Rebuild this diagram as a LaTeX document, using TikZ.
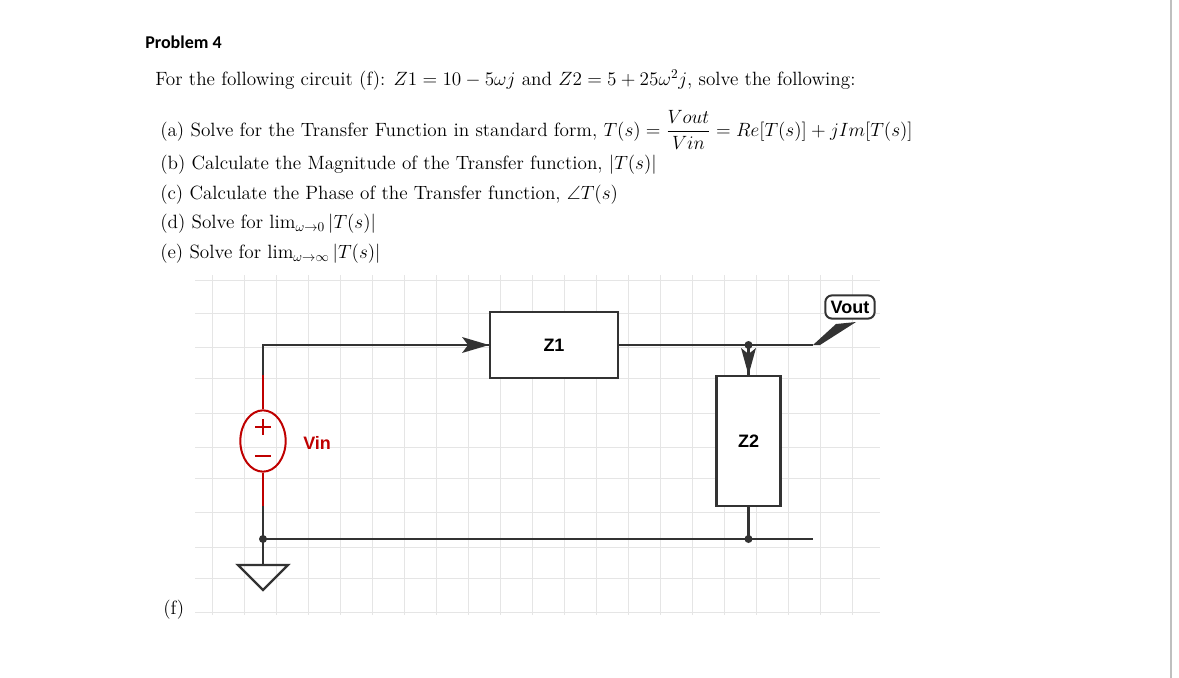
\documentclass[tikz,border=0pt]{standalone}
\usepackage{amsmath,amssymb}
\usepackage{fontspec}
\usetikzlibrary{shapes.geometric}
\newfontfamily\calfont{Carlito}
\newfontfamily\helfont{Liberation Sans}
\begin{document}
\begin{tikzpicture}[x=0.75pt,y=-0.75pt,
  wire/.style={draw=black!80,line width=1.8pt},
  box/.style={draw=black!80,line width=1.6pt,fill=white},
  lbl/.style={font=\helfont\bfseries\fontsize{13.5}{15}\selectfont},
  txt/.style={anchor=west,inner sep=0pt,font=\fontsize{14.4}{16}\selectfont}]
\useasboundingbox (0,0) rectangle (1179,678);
\draw[black!25,line width=1pt] (1171,0) -- (1171,678);
% grid
\foreach \y in {280,313,347,378,413,447,478,512,547,578,612} \draw[black!10,line width=0.6pt] (195,\y) -- (880,\y);
\foreach \x in {212,244,276,308,340,372,404,436,468,500,532,564,596,628,660,692,724,756,788,820,852} \draw[black!10,line width=0.6pt] (\x,275) -- (\x,615);
% texts
\node[anchor=west,inner sep=0pt,font=\calfont\bfseries\fontsize{13.5}{15}\selectfont] (title) at (145,42) {Problem 4};
\node[txt] (intro) at (155,80) {For the following circuit (f): $Z1=10-5\omega j$ and $Z2=5+25\omega^2 j$, solve the following:};
\node[txt] (qa) at (160,130) {(a) Solve for the Transfer Function in standard form, $T(s)=\dfrac{Vout}{Vin}=Re[T(s)]+jIm[T(s)]$};
\node[txt] (qb) at (160,165) {(b) Calculate the Magnitude of the Transfer function, $|T(s)|$};
\node[txt] (qc) at (160,195) {(c) Calculate the Phase of the Transfer function, $\angle T(s)$};
\node[txt] (qd) at (160,224) {(d) Solve for $\lim_{\omega\to0}|T(s)|$};
\node[txt] (qe) at (160,254) {(e) Solve for $\lim_{\omega\to\infty}|T(s)|$};
\node[txt] (qf) at (163,610) {(f)};
% components
\node[box,lbl,minimum width=96pt,minimum height=49pt] (z1) at (554,345) {Z1};
\node[box,lbl,minimum width=48pt,minimum height=97pt] (z2) at (748.5,441) {Z2};
\node[draw=red!75!black,line width=1.5pt,ellipse,minimum width=34pt,minimum height=46pt,inner sep=0pt] (src) at (263,441) {};
\draw[red!75!black,line width=1.5pt] (255,427) -- (271,427) (263,419) -- (263,435) (255,456) -- (271,456);
\node[anchor=west,inner sep=0pt,text=red!75!black,lbl] (vin) at (303,443) {Vin};
\node[draw=black!80,line width=1.5pt,rounded corners=5pt,lbl,inner sep=4pt,fill=white] (vout) at (850,307) {Vout};
\coordinate (tl) at (263,345);
\coordinate (j1) at (748.5,345);
\coordinate (ve) at (813,345);
\coordinate (bl) at (263,539);
\coordinate (j2) at (748.5,539);
\coordinate (be) at (813,539);
\coordinate (gt) at (263,565);
% wires
\draw[red!75!black,line width=1.8pt] (263,375) -- (src.north) (src.south) -- (263,506);
\draw[wire] (263,375) -- (tl) -- (z1.west);
\fill[black!80] (489,345) -- (462,337) -- (468,345) -- (462,353) -- cycle;
\draw[wire] (z1.east) -- (ve);
\draw[wire] (j1) -- (z2.north);
\fill[black!80] (748.5,375) -- (741,348) -- (748.5,354) -- (756,348) -- cycle;
\draw[wire] (263,506) -- (bl) -- (be);
\draw[wire] (z2.south) -- (j2);
\draw[wire] (bl) -- (gt);
\draw[black!80,line width=1.8pt,line join=miter] (238,565) -- (288,565) -- (263,590) -- cycle;
\fill[black!80] (ve) -- (836,324) -- (856,322) -- (820,345) -- cycle;
\fill[black!80] (j1) circle (4) (bl) circle (4) (j2) circle (4);
\end{tikzpicture}
\end{document}
